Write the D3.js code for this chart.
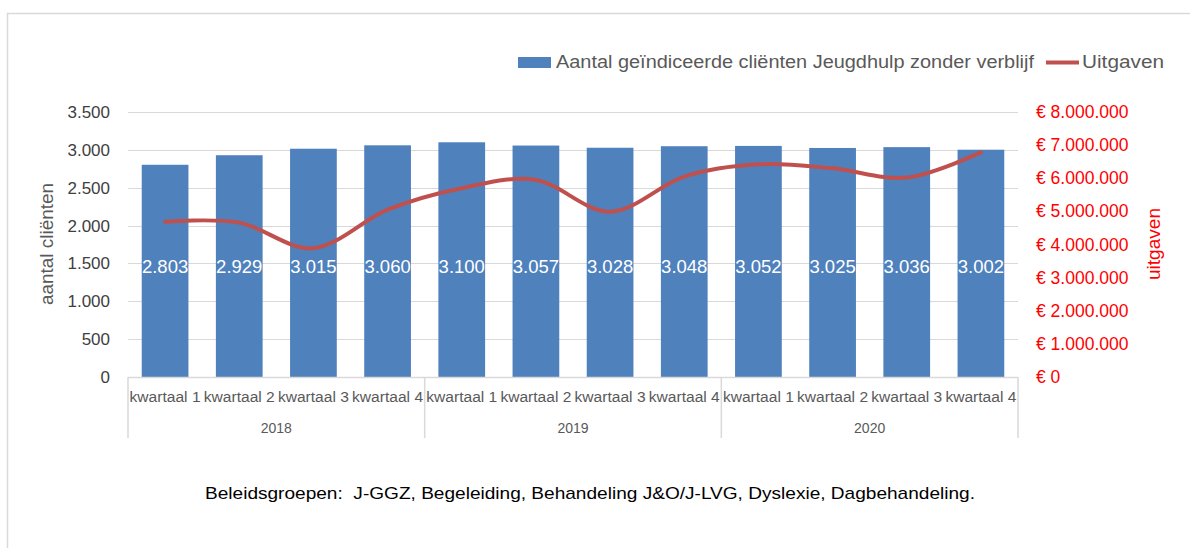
<!DOCTYPE html>
<head>
  <meta charset="utf-8">
  <title>Jeugdhulp zonder verblijf</title>
  <script src="https://d3js.org/d3.v7.min.js"></script>
  <style>
  body { margin: 0; background: #fff; }
  text { font-family: "Liberation Sans", "DejaVu Sans", sans-serif; }
  .grid line { stroke: #d9d9d9; stroke-width: 1; }
  </style>
</head>
<body>
<script>
var WIDTH = 1190, HEIGHT = 548;

// data
var years = ["2018", "2019", "2020"];
var quarters = ["kwartaal 1", "kwartaal 2", "kwartaal 3", "kwartaal 4"];
var clienten = [2803, 2929, 3015, 3060, 3100, 3057, 3028, 3048, 3052, 3025, 3036, 3002];
var uitgaven = [4690000, 4660000, 3890000, 5050000, 5700000, 5950000, 4990000, 6050000, 6420000, 6300000, 6020000, 6780000];
var leftTicks = [0, 500, 1000, 1500, 2000, 2500, 3000, 3500];
var rightTicks = [0, 1000000, 2000000, 3000000, 4000000, 5000000, 6000000, 7000000, 8000000];

var cats = [];
years.forEach(function(yr){ quarters.forEach(function(q){ cats.push(yr + "|" + q); }); });

var nl = d3.formatLocale({decimal: ",", thousands: ".", grouping: [3], currency: ["€ ", ""]});
var fmtN = nl.format(",d");
var fmtE = function(v){ return "€ " + fmtN(v); };

var svg = d3.select("body").append("svg")
  .attr("width", WIDTH).attr("height", HEIGHT);

// chart border
svg.append("rect").attr("x", 7.5).attr("y", 13.5).attr("width", 1200).attr("height", 600)
  .attr("fill", "none").attr("stroke", "#d9d9d9").attr("stroke-width", 1.5);

var pLeft = 128, pRight = 1018, pTop = 112, pBottom = 377;

var x = d3.scaleBand().domain(cats).range([pLeft, pRight]).paddingInner(0.37).paddingOuter(0.185);
var xc = d3.scaleBand().domain(cats).range([pLeft, pRight]);
var y = d3.scaleLinear().domain([0, 3500]).range([pBottom, pTop]);
var y2 = d3.scaleLinear().domain([0, 8000000]).range([pBottom, pTop]);

// gridlines
svg.append("g").attr("class", "grid")
  .selectAll("line").data(leftTicks.slice(1)).enter().append("line")
  .attr("x1", pLeft).attr("x2", pRight)
  .attr("y1", function(d){ return Math.round(y(d)) + 0.5; })
  .attr("y2", function(d){ return Math.round(y(d)) + 0.5; });

// left axis
var yAxis = d3.axisLeft(y).tickValues(leftTicks).tickFormat(fmtN).tickSize(0).tickPadding(18);
var gy = svg.append("g").attr("transform", "translate(" + pLeft + ",0)").call(yAxis);
gy.select(".domain").remove();
gy.selectAll("text").attr("fill", "#404040").style("font-size", "17px")
  .style("font-family", "Liberation Sans, sans-serif");

// right axis
var y2Axis = d3.axisRight(y2).tickValues(rightTicks).tickFormat(fmtE).tickSize(0).tickPadding(18);
var gy2 = svg.append("g").attr("transform", "translate(" + pRight + ",0)").call(y2Axis);
gy2.select(".domain").remove();
gy2.selectAll("text").attr("fill", "#ff0000").style("font-size", "17.5px")
  .style("font-family", "Liberation Sans, sans-serif");

// axis titles
svg.append("text").attr("transform", "translate(53,244) rotate(-90)")
  .attr("text-anchor", "middle").attr("fill", "#595959").style("font-size", "17.5px")
  .attr("textLength", 122).attr("lengthAdjust", "spacingAndGlyphs")
  .text("aantal cliënten");
svg.append("text").attr("transform", "translate(1160,244) rotate(-90)")
  .attr("text-anchor", "middle").attr("fill", "#ff0000").style("font-size", "17.5px")
  .attr("textLength", 72).attr("lengthAdjust", "spacingAndGlyphs")
  .text("uitgaven");

// bars
svg.append("g").selectAll("rect").data(clienten).enter().append("rect")
  .attr("x", function(d, i){ return x(cats[i]); })
  .attr("width", x.bandwidth())
  .attr("y", function(d){ return y(d); })
  .attr("height", function(d){ return pBottom - y(d); })
  .attr("fill", "#4f81bd");

// bar labels
svg.append("g").selectAll("text").data(clienten).enter().append("text")
  .attr("x", function(d, i){ return x(cats[i]) + x.bandwidth() / 2; })
  .attr("y", 273)
  .attr("text-anchor", "middle").attr("fill", "#fff").style("font-size", "18.5px")
  .text(fmtN);

// line
var line = d3.line()
  .x(function(d, i){ return x(cats[i]) + x.bandwidth() / 2; })
  .y(function(d){ return y2(d); })
  .curve(d3.curveCatmullRom.alpha(0));
svg.append("path").datum(uitgaven).attr("d", line)
  .attr("fill", "none").attr("stroke", "#c0504d").attr("stroke-width", 4)
  .attr("stroke-linecap", "round");

// category axis
var ax = svg.append("g");
ax.append("line").attr("x1", pLeft).attr("x2", pRight).attr("y1", pBottom + 0.5).attr("y2", pBottom + 0.5)
  .attr("stroke", "#d9d9d9").attr("stroke-width", 1.5);
[0, 4, 8, 12].forEach(function(k){
  var xx = k < 12 ? xc(cats[k]) : pRight;
  ax.append("line").attr("x1", xx).attr("x2", xx).attr("y1", pBottom).attr("y2", 438)
    .attr("stroke", "#d9d9d9").attr("stroke-width", 1.5);
});
ax.selectAll("text.q").data(cats).enter().append("text").attr("class", "q")
  .attr("x", function(d){ return xc(d) + xc.bandwidth() / 2; })
  .attr("y", 402).attr("text-anchor", "middle").attr("fill", "#595959")
  .style("font-size", "14px")
  .attr("textLength", 71).attr("lengthAdjust", "spacingAndGlyphs")
  .text(function(d){ return d.split("|")[1]; });
ax.selectAll("text.y").data(years).enter().append("text").attr("class", "y")
  .attr("x", function(d, i){ return xc(cats[i * 4]) + xc.bandwidth() * 2; })
  .attr("y", 433).attr("text-anchor", "middle").attr("fill", "#595959")
  .style("font-size", "14px")
  .text(function(d){ return d; });

// legend
var lg = svg.append("g");
lg.append("rect").attr("x", 518).attr("y", 57).attr("width", 33).attr("height", 11).attr("fill", "#4f81bd");
lg.append("text").attr("x", 556).attr("y", 68).attr("fill", "#595959").style("font-size", "17.5px")
  .attr("textLength", 478).attr("lengthAdjust", "spacingAndGlyphs")
  .text("Aantal geïndiceerde cliënten Jeugdhulp zonder verblijf");
lg.append("line").attr("x1", 1046).attr("x2", 1079).attr("y1", 62.5).attr("y2", 62.5)
  .attr("stroke", "#c0504d").attr("stroke-width", 4);
lg.append("text").attr("x", 1082).attr("y", 68).attr("fill", "#595959").style("font-size", "17.5px")
  .attr("textLength", 82).attr("lengthAdjust", "spacingAndGlyphs")
  .text("Uitgaven");

// note
svg.append("text").attr("x", 205).attr("y", 499).attr("fill", "#000").style("font-size", "17px")
  .attr("textLength", 770).attr("lengthAdjust", "spacingAndGlyphs")
  .attr("xml:space", "preserve")
  .text("Beleidsgroepen:  J-GGZ, Begeleiding, Behandeling J&O/J-LVG, Dyslexie, Dagbehandeling.");
</script>
</body>
